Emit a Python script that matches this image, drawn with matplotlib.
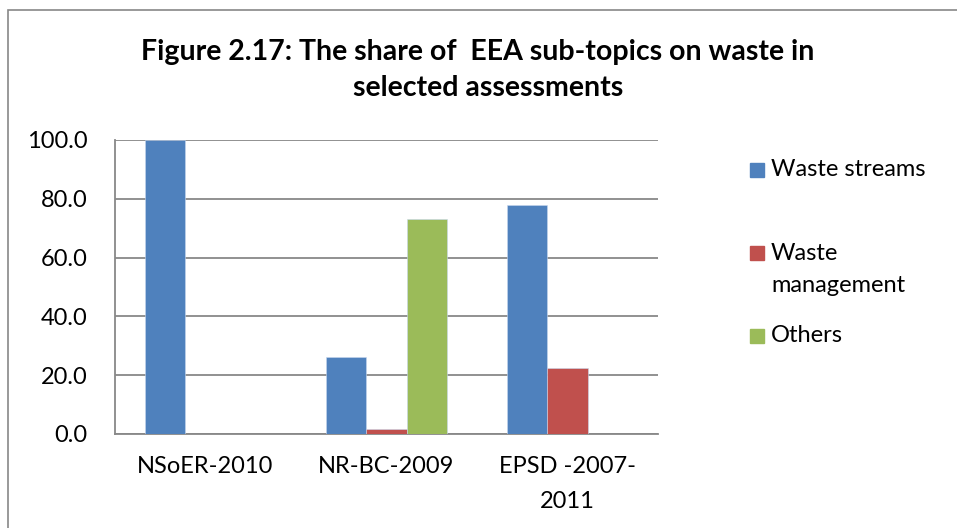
import matplotlib
matplotlib.use("Agg")
import matplotlib.pyplot as plt
import numpy as np
from matplotlib.patches import Rectangle

# data
categories = ["NSoER-2010", "NR-BC-2009", "EPSD -2007-\n2011"]
series_names = ["Waste streams", "Waste\nmanagement", "Others"]
waste_streams = [100.0, 26.2, 77.9]
waste_management = [0.0, 1.6, 22.3]
others = [0.0, 73.1, 0.0]
colors = ["#4F81BD", "#C0504D", "#9BBB59"]
yticks = [0, 20, 40, 60, 80, 100]

title_lines = ["Figure 2.17: The share of  EEA sub-topics on waste in",
               "selected assessments"]

plt.rcParams['font.family'] = ['Lato', 'DejaVu Sans']

W, H = 957, 528
fig = plt.figure(figsize=(W / 100, H / 100), dpi=100)
ax = fig.add_axes([115 / W, 1 - 434 / H, (658 - 115) / W, (434 - 140) / H])

x = np.arange(len(categories))
width = 0.222
values = [waste_streams, waste_management, others]
for i, (vals, c) in enumerate(zip(values, colors)):
    ax.bar(x + (i - 1) * width, vals, width, color=c, edgecolor="#c8d8ee",
           linewidth=0.4, zorder=3)

ax.set_xlim(-0.5, len(categories) - 0.5)
ax.set_ylim(0, 100)
ax.set_yticks(yticks)
ax.set_yticklabels(["%.1f" % v for v in yticks], fontsize=17)
ax.set_xticks(x)
ax.set_xticklabels(categories, fontsize=17, linespacing=1.8)
ax.tick_params(axis="y", length=0, pad=20)
ax.tick_params(axis="x", length=0, pad=16)
ax.yaxis.grid(True, color="#888888", linewidth=1.3, zorder=0)
for s in ["top", "right"]:
    ax.spines[s].set_visible(False)
for s in ["left", "bottom"]:
    ax.spines[s].set_color("#888888")
    ax.spines[s].set_linewidth(1.3)

# title, two lines as in the reference
for line, (cx, cy) in zip(title_lines, [(478, 52), (488, 88)]):
    fig.text(cx / W, 1 - cy / H, line, ha="center", va="center",
             fontsize=20.5, fontweight="bold")

# legend
leg_y = [170, 253, 336]
for name, c, yy in zip(series_names, colors, leg_y):
    fig.add_artist(Rectangle((750 / W, 1 - (yy + 7) / H), 14 / W, 14 / H,
                             transform=fig.transFigure, color=c))
    for k, part in enumerate(name.split("\n")):
        fig.text(771 / W, 1 - (yy + 32 * k) / H, part, ha="left", va="center",
                 fontsize=17)

# outer frame
fig.add_artist(Rectangle((8 / W, -0.1), 1.2, 1.1 - 10 / H, transform=fig.transFigure,
                         fill=False, edgecolor="#888888", linewidth=1.2))

fig.savefig("out.png", dpi=100)
